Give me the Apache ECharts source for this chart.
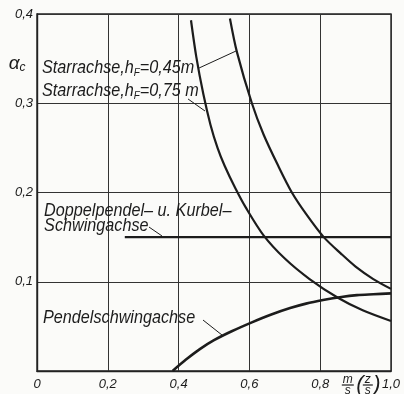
<!DOCTYPE html>
<html><head><meta charset="utf-8">
<script src="https://cdn.jsdelivr.net/npm/echarts@6/dist/echarts.min.js"></script>
<style>html,body{margin:0;padding:0;background:#fbfbf9}#c{width:404px;height:394px}</style>
</head><body><div id="c"></div>
<script>
const xTicks = [0, 0.2, 0.4, 0.6, 0.8, 1.0];
const yTicks = [0.1, 0.2, 0.3, 0.4];
const starr045 = [[0.545,0.395],[0.565,0.357],[0.607,0.300],[0.64,0.265],[0.68,0.231],[0.72,0.200],[0.76,0.176],[0.81,0.150],[0.86,0.131],[0.90,0.117],[0.95,0.103],[1.0,0.092]];
const starr075 = [[0.435,0.393],[0.45,0.352],[0.47,0.310],[0.49,0.276],[0.51,0.250],[0.53,0.230],[0.56,0.205],[0.59,0.183],[0.64,0.152],[0.70,0.126],[0.77,0.103],[0.85,0.082],[0.92,0.068],[1.0,0.056]];
const doppel = [[0.248,0.150],[1.0,0.150]];
const pendel = [[0.383,0],[0.42,0.0125],[0.46,0.0245],[0.50,0.0345],[0.55,0.0445],[0.607,0.0545],[0.66,0.063],[0.715,0.0705],[0.76,0.0755],[0.808,0.0795],[0.86,0.083],[0.904,0.085],[0.95,0.086],[1.0,0.087]];
const labelTexts = ['Starrachse,h', '=0,45m', '=0,75 m', 'Doppelpendel\u2013 u. Kurbel\u2013', 'Schwingachse', 'Pendelschwingachse'];

const FONT = '"Liberation Sans",sans-serif';
const INK = '#1c1c1c';
const chart = echarts.init(document.getElementById('c'), null, {renderer:'canvas'});
const fmt = v => v === 0 ? '0' : v.toFixed(1).replace('.', ',');
function line(data, w) {
  return {type:'line', data, smooth:0.3, symbol:'none', silent:true,
    lineStyle:{color:INK, width:w}};
}
chart.setOption({
  backgroundColor:'#fbfbf9',
  animation:false,
  grid:{left:37, right:13, top:14, bottom:23, show:true, borderColor:'#222', borderWidth:1.4},
  xAxis:{type:'value', min:0, max:1, interval:0.2,
    axisLine:{show:true, lineStyle:{color:'#222', width:1.4}}, axisTick:{show:false},
    splitLine:{show:true, lineStyle:{color:'#333', width:1}},
    axisLabel:{formatter:fmt, fontStyle:'italic', fontFamily:FONT, fontSize:13, color:INK, margin:7,
      showMaxLabel:true, showMinLabel:true}},
  yAxis:{type:'value', min:0, max:0.4, interval:0.1,
    axisLine:{show:true, lineStyle:{color:'#222', width:1.4}}, axisTick:{show:false},
    splitLine:{show:true, lineStyle:{color:'#333', width:1}},
    axisLabel:{formatter:v => yTicks.some(t => Math.abs(t - v) < 1e-9) ? fmt(v) : '', fontStyle:'italic', fontFamily:FONT, fontSize:13, color:INK, margin:4}},
  series:[line(starr045, 2.2), line(starr075, 2.2), line(doppel, 2.4), line(pendel, 2.6)]
});

const P = (x, y) => chart.convertToPixel({gridIndex:0}, [x, y]);
const rich = {
  n:{fontSize:18, lineHeight:20, fontFamily:FONT, fontStyle:'italic', fill:INK},
  s:{fontSize:11, lineHeight:11, fontFamily:FONT, fontStyle:'italic', fill:INK, verticalAlign:'bottom'}
};
function txt(x, y, text) {
  const p = P(x, y);
  return {type:'text', x:p[0], y:p[1], scaleX:0.9, silent:true,
    style:{text, rich, align:'left', verticalAlign:'middle', fill:INK}};
}
function seg(a, b) {
  const p = P(a[0], a[1]), q = P(b[0], b[1]);
  return {type:'line', silent:true, shape:{x1:p[0], y1:p[1], x2:q[0], y2:q[1]}, style:{stroke:INK, lineWidth:1}};
}
const g = [
  txt(0.014, 0.3395, '{n|' + labelTexts[0] + '}{s|F}{n|' + labelTexts[1] + '}'),
  txt(0.014, 0.3137, '{n|' + labelTexts[0] + '}{s|F}{n|' + labelTexts[2] + '}'),
  txt(0.020, 0.1793, '{n|' + labelTexts[3] + '}'),
  txt(0.020, 0.1625, '{n|' + labelTexts[4] + '}'),
  txt(0.017, 0.0594, '{n|' + labelTexts[5] + '}'),
  seg([0.458,0.3395],[0.562,0.3585]),
  seg([0.4266,0.3048],[0.4746,0.2913]),
  seg([0.3164,0.1613],[0.3531,0.1513]),
  seg([0.469,0.0571],[0.5226,0.0403])
];
// axis name alpha_c
const a = P(-0.056, 0.344);
g.push({type:'text', x:a[0], y:a[1], silent:true, style:{text:'{a|\u03b1}{c|c}', align:'center', verticalAlign:'middle',
  rich:{a:{fontSize:19, lineHeight:20, fontFamily:FONT, fontStyle:'italic', fill:INK},
        c:{fontSize:12, lineHeight:12, fontFamily:FONT, fontStyle:'italic', fill:INK, verticalAlign:'bottom'}}}});
// x axis name  m/s (z/s)
const f = P(0.878, 0);
const fx = f[0], fy = f[1] + 14;
const it = (x, y, t, s) => ({type:'text', x, y, silent:true, style:{text:t, font:'italic ' + s + 'px ' + FONT, fill:INK, align:'center', verticalAlign:'middle'}});
g.push(it(fx, fy - 5, 'm', 12), it(fx, fy + 6, 's', 12),
  {type:'line', silent:true, shape:{x1:fx-6, y1:fy, x2:fx+6, y2:fy}, style:{stroke:INK, lineWidth:1.2}},
  it(fx + 12, fy, '(', 22), it(fx + 20, fy - 5, 'z', 12), it(fx + 20, fy + 6, 's', 12),
  {type:'line', silent:true, shape:{x1:fx+15, y1:fy, x2:fx+25, y2:fy}, style:{stroke:INK, lineWidth:1.2}},
  it(fx + 29, fy, ')', 22));
chart.setOption({graphic:g});
</script></body></html>
